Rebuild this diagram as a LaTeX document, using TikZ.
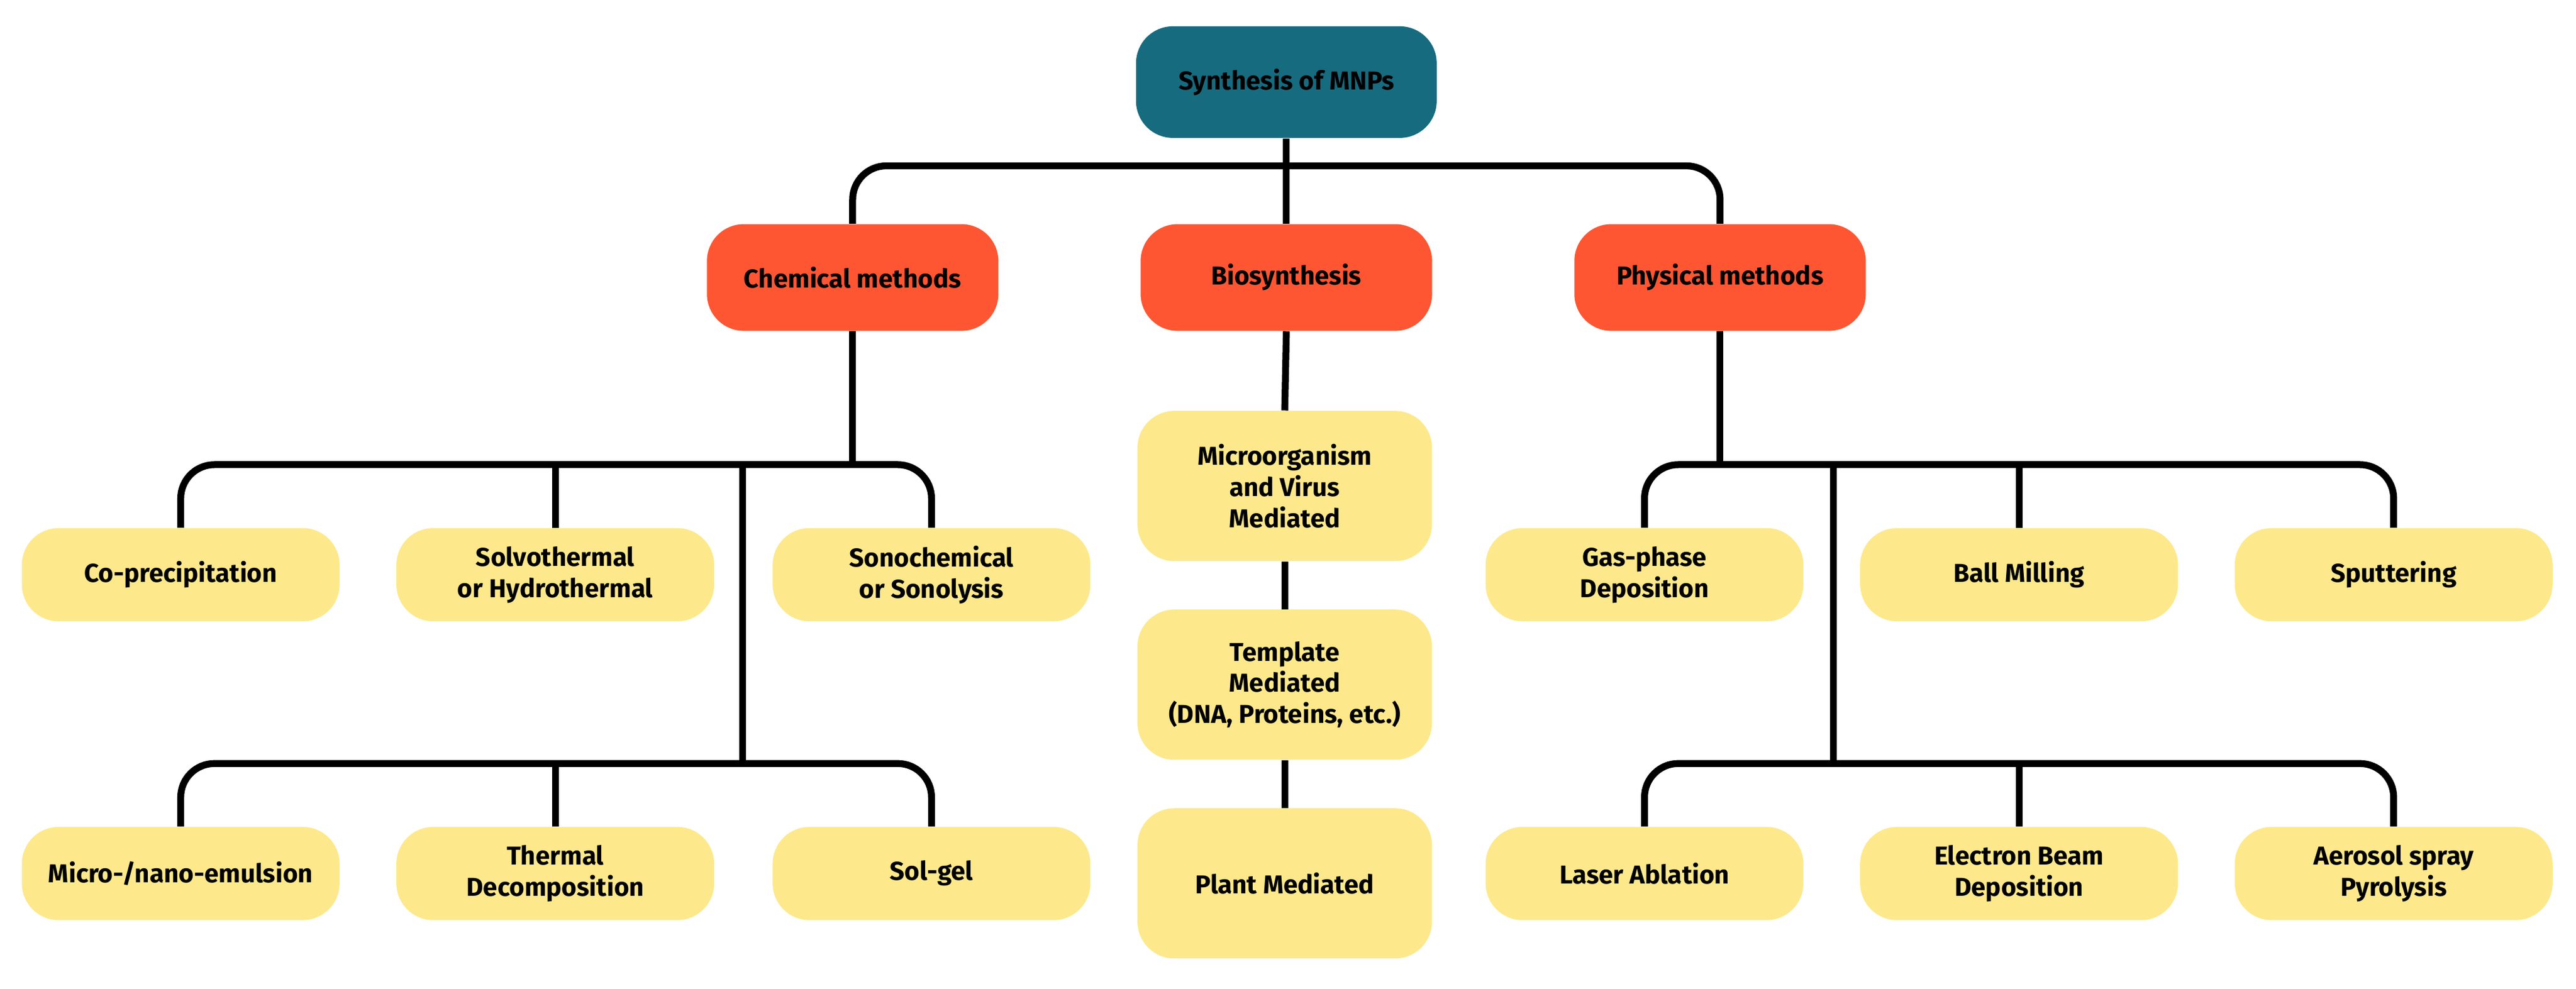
\documentclass[tikz,border=0pt]{standalone}
\usepackage{fontspec}
\setmainfont{Fira Sans}
\usetikzlibrary{positioning}
\definecolor{rootc}{HTML}{176B7F}
\definecolor{mainc}{HTML}{FE5632}
\definecolor{leafc}{HTML}{FDE98C}
\tikzset{
  box/.style={rounded corners=0.6cm, align=center, font=\fontsize{12}{14.5}\selectfont\bfseries, inner sep=2pt},
  rootbox/.style={box, fill=rootc, minimum width=4.9cm, minimum height=1.82cm},
  mainbox/.style={box, fill=mainc, minimum width=4.75cm, minimum height=1.74cm},
  leaf/.style={box, fill=leafc, minimum width=5.18cm, minimum height=1.52cm},
  bioleaf/.style={box, fill=leafc, minimum width=4.8cm, minimum height=2.45cm},
  conn/.style={line width=3.2pt, rounded corners=0.55cm}
}
\begin{document}
\begin{tikzpicture}[x=0.02678cm, y=-0.02678cm]
\useasboundingbox (0,0) rectangle (1568,602);
% top level
\node[rootbox] (root) at (783,50) {Synthesis of MNPs};
\node[mainbox] (chem) at (519,169) {Chemical methods};
\node[mainbox] (bio) at (783,169) {Biosynthesis};
\node[mainbox] (phys) at (1047,169) {Physical methods};
% chemical
\node[leaf] (coprec) at (110,350) {Co-precipitation};
\node[leaf] (solvo) at (338,350) {Solvothermal\\or Hydrothermal};
\node[leaf] (sono) at (567,350) {Sonochemical\\or Sonolysis};
\node[leaf] (micro) at (110,532) {Micro-/nano-emulsion};
\node[leaf] (therm) at (338,532) {Thermal\\Decomposition};
\node[leaf] (solgel) at (567,532) {Sol-gel};
% biosynthesis
\node[bioleaf] (virus) at (782,296) {Microorganism\\and Virus\\Mediated};
\node[bioleaf] (templ) at (782,417) {Template\\Mediated\\(DNA, Proteins, etc.)};
\node[bioleaf] (plant) at (782,538) {Plant Mediated};
% physical
\node[leaf] (gas) at (1001,350) {Gas-phase\\Deposition};
\node[leaf] (ball) at (1229,350) {Ball Milling};
\node[leaf] (sputt) at (1457,350) {Sputtering};
\node[leaf] (laser) at (1001,532) {Laser Ablation};
\node[leaf] (ebeam) at (1229,532) {Electron Beam\\Deposition};
\node[leaf] (aero) at (1457,532) {Aerosol spray\\Pyrolysis};
% junctions
\coordinate (j0) at (783,101);
\coordinate (c1) at (519,283);
\coordinate (c2) at (452,283);
\coordinate (c3) at (452,465);
\coordinate (p1) at (1047,283);
\coordinate (p2) at (1116,283);
\coordinate (p3) at (1116,465);
% connectors
\begin{scope}[on background layer/.style={}]
\draw[conn] (chem.north) |- (j0) -| (phys.north);
\draw[conn] (root.south) -- (bio.north);
\draw[conn] (chem.south) -- (c1);
\draw[conn] (coprec.north) |- (c1) -| (sono.north);
\draw[conn] (solvo.north) -- (solvo.north |- c1);
\draw[conn] (c2) -- (c3);
\draw[conn] (micro.north) |- (c3) -| (solgel.north);
\draw[conn] (therm.north) -- (therm.north |- c3);
\draw[conn] (bio.south) -- (virus.north);
\draw[conn] (virus.south) -- (templ.north);
\draw[conn] (templ.south) -- (plant.north);
\draw[conn] (phys.south) -- (p1);
\draw[conn] (gas.north) |- (p1) -| (sputt.north);
\draw[conn] (ball.north) -- (ball.north |- p1);
\draw[conn] (p2) -- (p3);
\draw[conn] (laser.north) |- (p3) -| (aero.north);
\draw[conn] (ebeam.north) -- (ebeam.north |- p3);
\end{scope}
\end{tikzpicture}
\end{document}
